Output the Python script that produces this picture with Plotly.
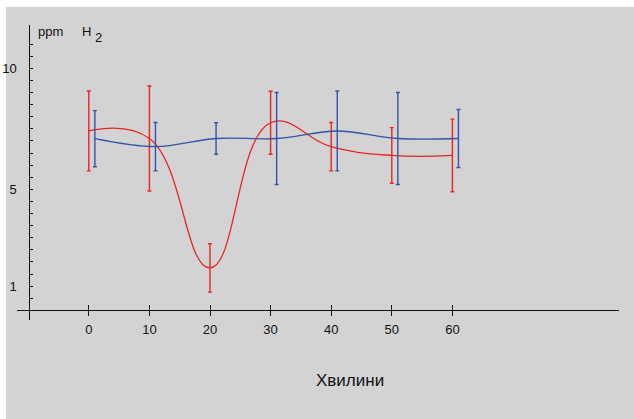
import plotly.graph_objects as go

# ---- data ----
minutes = [0, 10, 20, 30, 40, 50, 60]
red_vals = [7.41, 7.10, 1.75, 7.75, 6.76, 6.40, 6.40]
red_err = [1.65, 2.17, 1.00, 1.30, 1.00, 1.15, 1.50]
blue_minutes = [1, 11, 21, 31, 41, 51, 61]
blue_vals = [7.09, 6.76, 7.10, 7.10, 7.41, 7.10, 7.10]
blue_err = [1.16, 1.00, 0.65, 1.90, 1.65, 1.90, 1.20]
x_ticks = [0, 10, 20, 30, 40, 50, 60]
y_ticks = [1, 5, 10]
y_minor = [0.5 * i for i in range(1, 23)]

RED = "#ec2424"
BLUE = "#3453aa"
BG = "#d3d3d3"
FONT = "Liberation Sans, Arial, sans-serif"

W, H = 634, 419
L, R, T, B = 17, 15, 25, 99
PW, PH = W - L - R, H - T - B


def px2x(px):
    return (px - L) / PW


def py2y(py):
    return (H - B - py) / PH


fig = go.Figure()
fig.add_trace(go.Scatter(
    x=minutes, y=red_vals, mode="lines",
    line=dict(color=RED, width=1.3, shape="spline", smoothing=1.25),
    error_y=dict(type="data", array=red_err, visible=True, color=RED,
                 thickness=1.4, width=2),
    showlegend=False, hoverinfo="x+y"))
fig.add_trace(go.Scatter(
    x=blue_minutes, y=blue_vals, mode="lines",
    line=dict(color=BLUE, width=1.3, shape="spline", smoothing=1.0),
    error_y=dict(type="data", array=blue_err, visible=True, color=BLUE,
                 thickness=1.4, width=2),
    showlegend=False, hoverinfo="x+y"))
# invisible trace to activate the overlay axis carrying inner tick marks
fig.add_trace(go.Scatter(x=[minutes[0]], y=[red_vals[0]], xaxis="x2",
                         mode="markers", marker=dict(opacity=0),
                         showlegend=False, hoverinfo="skip"))

xpos = py2y(309.5)
xrange_ = [(L - 88.8) / 6.06, (W - R - 88.8) / 6.06]
yrange_ = [(310.3 - (H - B)) / 24.2, (310.3 - T) / 24.2]

fig.update_layout(
    width=W, height=H,
    margin=dict(l=L, r=R, t=T, b=B, pad=0, autoexpand=False),
    paper_bgcolor=BG, plot_bgcolor=BG,
    font=dict(family=FONT, size=13, color="#111111"),
    xaxis=dict(range=xrange_, domain=[0, 1], anchor="free", position=xpos,
               automargin=False,
               showline=True, linecolor="#111111", linewidth=1.4,
               showgrid=False, zeroline=False,
               tickmode="array", tickvals=x_ticks,
               ticks="outside", ticklen=5, tickwidth=1.2, tickcolor="#111111",
               ticklabelstandoff=3, tickfont=dict(size=13, family=FONT)),
    xaxis2=dict(range=xrange_, overlaying="x", anchor="free", position=xpos,
                automargin=False,
                showline=False, showgrid=False, zeroline=False,
                tickmode="array", tickvals=x_ticks, showticklabels=False,
                ticks="inside", ticklen=5, tickwidth=1.2, tickcolor="#111111"),
    yaxis=dict(range=yrange_, domain=[0, 1], anchor="free", position=px2x(28.5),
               automargin=False,
               showline=True, linecolor="#111111", linewidth=1.4,
               showgrid=False, zeroline=False,
               tickmode="array", tickvals=y_ticks,
               ticks="inside", ticklen=3, tickwidth=1, tickcolor="#111111",
               ticklabelstandoff=9, tickfont=dict(size=13, family=FONT),
               minor=dict(tickmode="array", tickvals=y_minor, ticks="inside",
                          ticklen=3, tickwidth=1, tickcolor="#111111",
                          showgrid=False)),
    shapes=[
        dict(type="rect", xref="paper", yref="paper", x0=px2x(0), x1=px2x(6),
             y0=py2y(H), y1=py2y(0), fillcolor="white", line=dict(width=0),
             layer="below"),
        dict(type="rect", xref="paper", yref="paper", x0=px2x(0), x1=px2x(W),
             y0=py2y(7), y1=py2y(0), fillcolor="white", line=dict(width=0),
             layer="below"),
    ],
    annotations=[
        dict(text="ppm", xref="paper", yref="paper", x=px2x(36), y=py2y(32),
             xanchor="left", yanchor="middle", showarrow=False,
             font=dict(size=13, family=FONT)),
        dict(text="H", xref="paper", yref="paper", x=px2x(79.5), y=py2y(32),
             xanchor="left", yanchor="middle", showarrow=False,
             font=dict(size=13, family=FONT)),
        dict(text="2", xref="paper", yref="paper", x=px2x(92.5), y=py2y(38),
             xanchor="left", yanchor="middle", showarrow=False,
             font=dict(size=13, family=FONT)),
        dict(text="Хвилини", xref="paper", yref="paper", x=px2x(349.7),
             y=py2y(380.7), xanchor="center", yanchor="middle",
             showarrow=False, font=dict(size=17, family=FONT)),
    ],
)

fig.write_html("out.html")
